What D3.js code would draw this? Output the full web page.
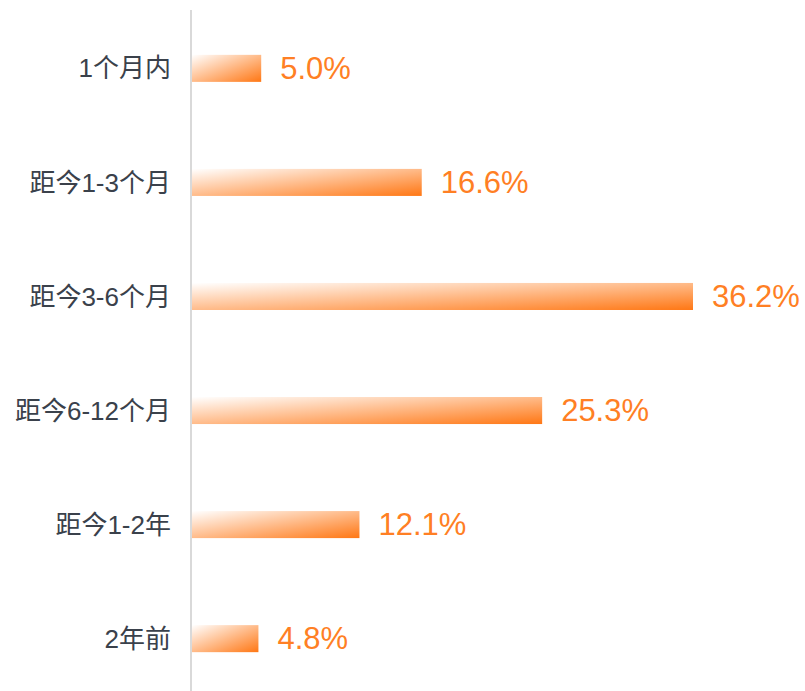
<!DOCTYPE html>
<html>
<head>
<meta charset="utf-8">
<script src="https://cdn.jsdelivr.net/npm/d3@7"></script>
<style>
  body { margin: 0; background: #fff; }
  svg { display: block; }
</style>
</head>
<body>
<div id="chart"><svg width="805" height="691"></svg></div>
<script>
const categories = ['1个月内', '距今1-3个月', '距今3-6个月', '距今6-12个月', '距今1-2年', '2年前']
const values = [5.0, 16.6, 36.2, 25.3, 12.1, 4.8]

const svg = d3.select('#chart svg')
const width = 805
const height = 691

const x = d3.scaleLinear()
    .domain([0, 36.2])
    .range([192, 693])

const y = d3.scaleBand()
    .domain(categories)
    .range([11.5, 695.5])
    .paddingInner(0.763)
    .paddingOuter(0.38)

// diagonal gradient, white top-left to orange bottom-right
const grad = svg.append('defs')
    .append('linearGradient')
    .attr('id', 'barGrad')
    .attr('x1', 0).attr('y1', 0)
    .attr('x2', 1).attr('y2', 1)
grad.append('stop').attr('offset', '0%').attr('stop-color', '#ffffff')
grad.append('stop').attr('offset', '100%').attr('stop-color', '#ff7714')

svg.selectAll('rect.bar')
    .data(values)
    .join('rect')
    .attr('class', 'bar')
    .attr('x', x(0))
    .attr('y', (d, i) => y(categories[i]))
    .attr('width', d => x(d) - x(0))
    .attr('height', y.bandwidth())
    .style('fill', 'url(#barGrad)')

// axis line
svg.append('line')
    .attr('x1', 191).attr('x2', 191)
    .attr('y1', 10).attr('y2', height)
    .style('stroke', '#d9d9d9')
    .style('stroke-width', 2)

svg.selectAll('text.cat')
    .data(categories)
    .join('text')
    .attr('class', 'cat')
    .text(d => d)
    .attr('x', 171)
    .attr('y', d => y(d) + y.bandwidth() / 2)
    .attr('dy', '0.35em')
    .attr('text-anchor', 'end')
    .style('font-family', '"Liberation Sans", "Noto Sans CJK SC", sans-serif')
    .style('font-size', '26px')
    .style('fill', '#3a414b')

svg.selectAll('text.val')
    .data(values)
    .join('text')
    .attr('class', 'val')
    .text(d => d.toFixed(1) + '%')
    .attr('x', d => x(d) + 19)
    .attr('y', (d, i) => y(categories[i]) + y.bandwidth() / 2)
    .attr('dy', '0.35em')
    .style('font-family', '"Liberation Sans", Arial, sans-serif')
    .style('font-size', '31px')
    .style('fill', '#ff7f24')
</script>
</body>
</html>
